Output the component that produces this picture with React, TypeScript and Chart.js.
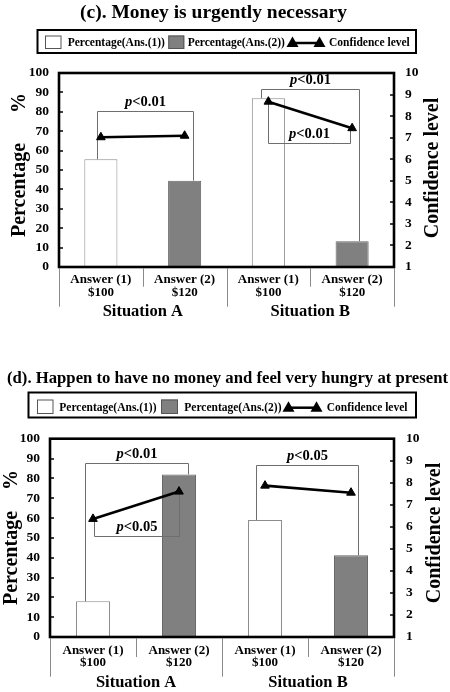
import React, { useEffect, useRef } from "react";
import { Chart, registerables } from "chart.js";

Chart.register(...registerables);

const SERIF = "'Liberation Serif', 'Times New Roman', Times, serif";

// ---------- shared labels ----------
const answerLabels = ["Answer (1)", "Answer (2)", "Answer (1)", "Answer (2)"];
const amountLabels = ["$100", "$120", "$100", "$120"];
const situationLabels = ["Situation A", "Situation B"];
const legendLabels = ["Percentage(Ans.(1))", "Percentage(Ans.(2))", "Confidence level"];
const percentTitle = "Percentage";
const percentUnit = "%";
const confidenceTitle = "Confidence level";
const percentRange = [0, 100, 10];
const confidenceRange = [1, 10, 1];

// ---------- (c) ----------
const titleC = "(c). Money is urgently necessary";
const ans1C = [55.5, null, 87, null];
const ans2C = [null, 44.5, null, 13.3];
const confC = [7.02, 7.09, 8.67, 7.44];
const sigC = [
  { from: 0, to: 1, axis: "y", level: 80.5, p: "0.01" },
  { from: 2, to: 3, axis: "y", level: 91.8, p: "0.01" },
  { from: 2, to: 3, axis: "y1", level: 6.75, p: "0.01" },
];

// ---------- (d) ----------
const titleD = "(d). Happen to have no money and feel very hungry at present";
const ans1D = [18, null, 59, null];
const ans2D = [null, 82, null, 41.2];
const confD = [6.36, 7.6, 7.87, 7.55];
const sigD = [
  { from: 0, to: 1, axis: "y", level: 87.9, p: "0.01" },
  { from: 0, to: 1, axis: "y1", level: 5.58, p: "0.05" },
  { from: 2, to: 3, axis: "y", level: 86.6, p: "0.05" },
];

// ---------- layout specs (positions only) ----------
const specC = {
  height: 340,
  area: { left: 59, right: 394, top: 73, bottom: 267 },
  title: { x: 213.5, y: 18, w: 267 },
  legend: {
    box: [37.5, 30, 378.5, 23],
    cy: 43,
    sq1: [45, 35.5, 16.5, 13.5],
    t1: 67.7,
    sq2: [168.3, 35.5, 16, 13.5],
    t2: 187.7,
    line: [292.5, 319.5],
    t3: 329,
  },
  yTitle: { x: 20, y: 190, unitY: 103 },
  y1Title: { x: 432.5, y: 168 },
  leftPad: 10,
  rightPad: 11,
  xl: { l1: 280, l2: 293, group: 311.5, short: 286.7, long: 306.7 },
  offsets: [[-0.05, 0.1], [-0.09, 0.08], [0, -0.03]],
};

const specD = {
  height: 352,
  area: { left: 50, right: 394, top: 98.7, bottom: 297 },
  title: { x: 227.5, y: 43, w: 441 },
  legend: {
    box: [28.5, 52.5, 387.5, 25],
    cy: 67.7,
    sq1: [37, 59.5, 16.5, 14.5],
    t1: 59.3,
    sq2: [161, 59.5, 17, 14.5],
    t2: 184.3,
    line: [288.5, 316.5],
    t3: 326.7,
  },
  yTitle: { x: 11.5, y: 218, unitY: 140 },
  y1Title: { x: 435, y: 193 },
  leftPad: 10,
  rightPad: 12,
  xl: { l1: 310.7, l2: 322.5, group: 342.7, short: 317, long: 336.7 },
  offsets: [[-0.095, 0.105], [0.015, 0], [-0.105, 0.08]],
};

function tri(ctx: CanvasRenderingContext2D, x: number, y: number, w: number) {
  const h = w * 0.87;
  ctx.beginPath();
  ctx.moveTo(x, y - h * 0.62);
  ctx.lineTo(x + w / 2, y + h * 0.38);
  ctx.lineTo(x - w / 2, y + h * 0.38);
  ctx.closePath();
  ctx.fill();
}

function PanelChart(props: any) {
  const { spec, title, ans1, ans2, conf, sig } = props;
  const ref = useRef<HTMLCanvasElement | null>(null);

  useEffect(() => {
    const canvas = ref.current;
    if (!canvas) return;
    const A = spec.area;
    const barValue = (i: number) => (ans1[i] ?? ans2[i]) as number;

    const geom = (chart: any, b: any, k: number) => {
      const x = chart.scales.x;
      const sc = chart.scales[b.axis];
      const cw = x.getPixelForValue(1) - x.getPixelForValue(0);
      const [oL, oR] = spec.offsets[k];
      const xl = Math.round(x.getPixelForValue(b.from) + oL * cw) + 0.5;
      const xr = Math.round(x.getPixelForValue(b.to) + oR * cw) + 0.5;
      const endL = b.axis === "y" ? barValue(b.from) : conf[b.from];
      const endR = b.axis === "y" ? barValue(b.to) : conf[b.to];
      const yl = sc.getPixelForValue(endL);
      const yr = sc.getPixelForValue(endR);
      const yt = Math.round(sc.getPixelForValue(b.level)) + 0.5;
      return { xl, xr, yl, yr, yt };
    };

    const decor = {
      id: "decor",
      beforeDatasetDraw(chart: any, args: any) {
        if (args.meta.type !== "line") return;
        const ctx = chart.ctx;
        ctx.save();
        ctx.strokeStyle = "#6e6e6e";
        ctx.lineWidth = 1;
        sig.forEach((b: any, k: number) => {
          const g = geom(chart, b, k);
          ctx.beginPath();
          ctx.moveTo(g.xl, g.yl);
          ctx.lineTo(g.xl, g.yt);
          ctx.lineTo(g.xr, g.yt);
          ctx.lineTo(g.xr, g.yr);
          ctx.stroke();
        });
        ctx.restore();
      },
      afterDraw(chart: any) {
        const ctx = chart.ctx;
        const x = chart.scales.x;
        const y = chart.scales.y;
        const y1 = chart.scales.y1;
        ctx.save();

        // frame
        ctx.strokeStyle = "#000";
        ctx.lineWidth = 2.6;
        ctx.strokeRect(A.left, A.top, A.right - A.left, A.bottom - A.top);

        // inward tick marks
        ctx.lineWidth = 1.5;
        for (let v = percentRange[0]; v <= percentRange[1]; v += percentRange[2]) {
          const py = Math.round(y.getPixelForValue(v));
          ctx.beginPath();
          ctx.moveTo(A.left, py);
          ctx.lineTo(A.left + 4, py);
          ctx.stroke();
        }
        for (let v = confidenceRange[0]; v <= confidenceRange[1]; v += confidenceRange[2]) {
          const py = Math.round(y1.getPixelForValue(v));
          ctx.beginPath();
          ctx.moveTo(A.right, py);
          ctx.lineTo(A.right - 4, py);
          ctx.stroke();
        }

        // category separators
        ctx.strokeStyle = "#8a8a8a";
        ctx.lineWidth = 1;
        const n = answerLabels.length;
        const cw = x.getPixelForValue(1) - x.getPixelForValue(0);
        for (let i = 0; i <= n; i++) {
          const px = Math.round(i === 0 ? A.left : i === n ? A.right : x.getPixelForValue(i) - cw / 2) + 0.5;
          const long = i % 2 === 0;
          ctx.beginPath();
          ctx.moveTo(px, A.bottom + 1);
          ctx.lineTo(px, long ? spec.xl.long : spec.xl.short);
          ctx.stroke();
        }

        // category labels
        ctx.fillStyle = "#000";
        ctx.textAlign = "center";
        ctx.textBaseline = "middle";
        ctx.font = `bold 13px ${SERIF}`;
        for (let i = 0; i < n; i++) {
          const px = x.getPixelForValue(i);
          ctx.fillText(answerLabels[i], px, spec.xl.l1);
          ctx.fillText(amountLabels[i], px, spec.xl.l2);
        }
        ctx.font = `bold 16.5px ${SERIF}`;
        situationLabels.forEach((s, g) => {
          const px = (x.getPixelForValue(2 * g) + x.getPixelForValue(2 * g + 1)) / 2;
          ctx.fillText(s, px, spec.xl.group);
        });

        // significance labels
        sig.forEach((b: any, k: number) => {
          const gm = geom(chart, b, k);
          const cx = (gm.xl + gm.xr) / 2;
          const by = gm.yt - 6;
          ctx.textAlign = "left";
          ctx.textBaseline = "alphabetic";
          ctx.font = `italic bold 14.5px ${SERIF}`;
          const wp = ctx.measureText("p").width;
          ctx.font = `bold 14.5px ${SERIF}`;
          const rest = "<" + b.p;
          const wr = ctx.measureText(rest).width;
          const sx = cx - (wp + wr) / 2;
          ctx.font = `italic bold 14.5px ${SERIF}`;
          ctx.fillText("p", sx, by);
          ctx.font = `bold 14.5px ${SERIF}`;
          ctx.fillText(rest, sx + wp, by);
        });

        // title (fit to the width seen in the reference)
        ctx.textAlign = "center";
        ctx.textBaseline = "alphabetic";
        ctx.font = `bold 20px ${SERIF}`;
        const tw = ctx.measureText(title).width;
        const ts = Math.min(20, (20 * spec.title.w) / tw);
        ctx.font = `bold ${ts.toFixed(2)}px ${SERIF}`;
        ctx.fillText(title, spec.title.x, spec.title.y);

        // legend
        const L = spec.legend;
        ctx.strokeStyle = "#000";
        ctx.lineWidth = 2;
        ctx.strokeRect(L.box[0], L.box[1], L.box[2], L.box[3]);
        ctx.lineWidth = 1;
        ctx.fillStyle = "#fff";
        ctx.fillRect(L.sq1[0], L.sq1[1], L.sq1[2], L.sq1[3]);
        ctx.strokeStyle = "#555";
        ctx.strokeRect(L.sq1[0] + 0.5, L.sq1[1] + 0.5, L.sq1[2] - 1, L.sq1[3] - 1);
        ctx.fillStyle = "#808080";
        ctx.fillRect(L.sq2[0], L.sq2[1], L.sq2[2], L.sq2[3]);
        ctx.strokeStyle = "#555";
        ctx.strokeRect(L.sq2[0] + 0.5, L.sq2[1] + 0.5, L.sq2[2] - 1, L.sq2[3] - 1);
        ctx.strokeStyle = "#000";
        ctx.lineWidth = 2.5;
        ctx.beginPath();
        ctx.moveTo(L.line[0], L.cy);
        ctx.lineTo(L.line[1], L.cy);
        ctx.stroke();
        ctx.fillStyle = "#000";
        tri(ctx, L.line[0], L.cy, 12);
        tri(ctx, L.line[1], L.cy, 12);
        ctx.textAlign = "left";
        ctx.textBaseline = "middle";
        ctx.font = `bold 11.5px ${SERIF}`;
        ctx.fillText(legendLabels[0], L.t1, L.cy);
        ctx.fillText(legendLabels[1], L.t2, L.cy);
        ctx.fillText(legendLabels[2], L.t3, L.cy);

        // axis titles
        ctx.font = `bold 20px ${SERIF}`;
        ctx.textAlign = "center";
        ctx.textBaseline = "middle";
        const rot = (t: string, px: number, py: number) => {
          ctx.save();
          ctx.translate(px, py);
          ctx.rotate(-Math.PI / 2);
          ctx.fillText(t, 0, 0);
          ctx.restore();
        };
        rot(percentTitle, spec.yTitle.x, spec.yTitle.y);
        rot(percentUnit, spec.yTitle.x, spec.yTitle.unitY);
        rot(confidenceTitle, spec.y1Title.x, spec.y1Title.y);

        ctx.restore();
      },
    };

    const tickFont = { family: SERIF, size: 13.5, weight: "bold" as const };

    const chart = new Chart(canvas, {
      type: "bar",
      data: {
        labels: answerLabels,
        datasets: [
          {
            type: "line",
            label: legendLabels[2],
            data: conf,
            yAxisID: "y1",
            order: 0,
            borderColor: "#000",
            borderWidth: 2.6,
            pointStyle: "triangle",
            pointRadius: 5,
            pointBackgroundColor: "#000",
            pointBorderColor: "#000",
            pointBorderWidth: 1,
            tension: 0,
            segment: {
              borderColor: (c: any) =>
                Math.floor(c.p0DataIndex / 2) !== Math.floor(c.p1DataIndex / 2) ? "rgba(0,0,0,0)" : "#000",
            },
          } as any,
          {
            type: "bar",
            label: legendLabels[0],
            data: ans1,
            yAxisID: "y",
            order: 1,
            backgroundColor: "#ffffff",
            borderColor: "#8c8c8c",
            borderWidth: 1,
            grouped: false,
            barPercentage: 0.395,
            categoryPercentage: 1,
          } as any,
          {
            type: "bar",
            label: legendLabels[1],
            data: ans2,
            yAxisID: "y",
            order: 2,
            backgroundColor: "#808080",
            borderColor: "#666666",
            borderWidth: 1,
            grouped: false,
            barPercentage: 0.395,
            categoryPercentage: 1,
          } as any,
        ],
      },
      options: {
        responsive: false,
        animation: false,
        devicePixelRatio: 1,
        layout: { padding: { top: A.top, bottom: spec.height - A.bottom, left: 0, right: 0 } },
        plugins: {
          legend: { display: false },
          tooltip: { enabled: false },
          title: { display: false },
        },
        scales: {
          x: { display: false, offset: true, grid: { display: false } },
          y: {
            position: "left",
            min: percentRange[0],
            max: percentRange[1],
            ticks: { stepSize: percentRange[2], padding: spec.leftPad, font: tickFont, color: "#000" },
            grid: { display: false, drawTicks: false, tickLength: 0 },
            border: { display: false },
            afterFit: (s: any) => {
              s.width = A.left;
            },
          },
          y1: {
            position: "right",
            min: confidenceRange[0],
            max: confidenceRange[1],
            ticks: { stepSize: confidenceRange[2], padding: spec.rightPad, font: tickFont, color: "#000" },
            grid: { display: false, drawTicks: false, tickLength: 0 },
            border: { display: false },
            afterFit: (s: any) => {
              s.width = 450 - A.right;
            },
          },
        },
      } as any,
      plugins: [decor],
    });

    return () => chart.destroy();
  }, [spec, title, ans1, ans2, conf, sig]);

  return <canvas ref={ref} width={450} height={spec.height} style={{ display: "block", width: 450, height: spec.height }} />;
}

export default function App() {
  return (
    <div style={{ position: "absolute", left: 0, top: 0, width: 450, height: 692, background: "#fff" }}>
      <PanelChart spec={specC} title={titleC} ans1={ans1C} ans2={ans2C} conf={confC} sig={sigC} />
      <PanelChart spec={specD} title={titleD} ans1={ans1D} ans2={ans2D} conf={confD} sig={sigD} />
    </div>
  );
}
